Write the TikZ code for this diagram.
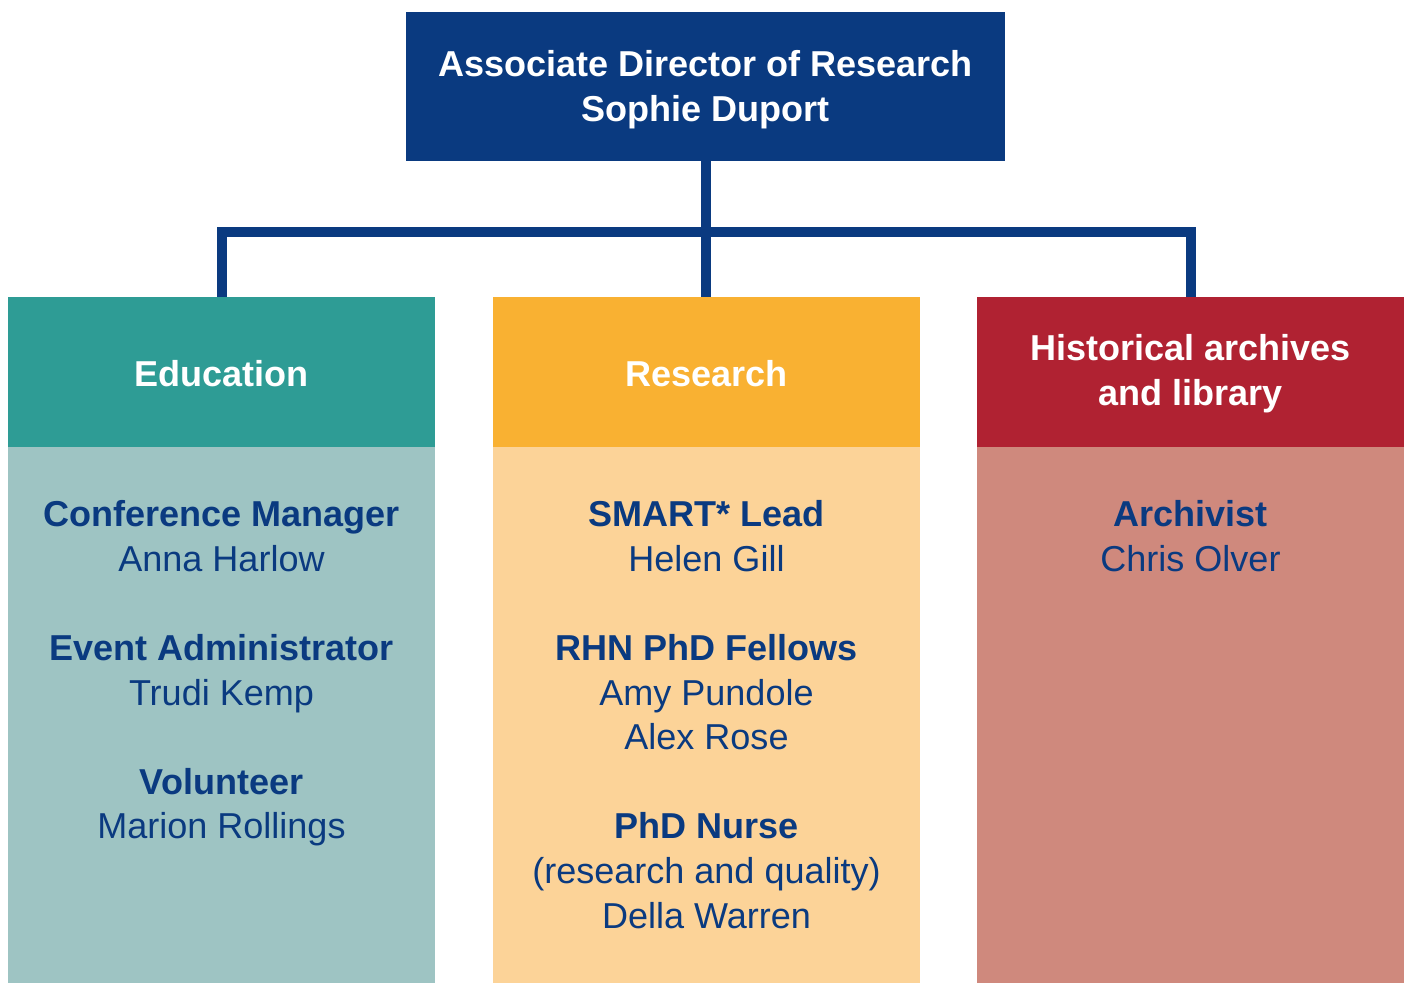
\documentclass[tikz,border=0pt]{standalone}
\usepackage{fontspec}
\setmainfont{Liberation Sans}
\definecolor{navy}{HTML}{0A3A80}
\definecolor{teal1}{HTML}{2E9C95}
\definecolor{teal2}{HTML}{9EC4C3}
\definecolor{orange1}{HTML}{F9B132}
\definecolor{orange2}{HTML}{FCD398}
\definecolor{red1}{HTML}{B02232}
\definecolor{red2}{HTML}{CF897D}
\tikzset{
  topbox/.style={fill=navy, minimum width=11.98cm, minimum height=2.98cm, inner sep=0pt},
  headbox/.style={minimum width=8.54cm, minimum height=3cm, inner sep=0pt},
  headtext/.style={inner sep=0pt, text=white, align=center, font=\fontsize{20.5}{25.4}\selectfont\bfseries},
  bodybox/.style={minimum width=8.54cm, minimum height=10.72cm, inner sep=0pt},
  bodytext/.style={anchor=north, inner sep=0pt, align=center, text=navy, font=\fontsize{20.5}{25.4}\selectfont},
  conn/.style={draw=navy, line width=0.2cm}
}
\newcommand{\role}[1]{\textbf{#1}}
\begin{document}
\begin{tikzpicture}
\useasboundingbox (0,0) rectangle (28.16,-19.66);
\node[topbox] (top) at (14.11,-1.73) {};
\node[headbox, fill=teal1] (edu) at (4.43,-7.44) {};
\node[headbox, fill=orange1] (res) at (14.13,-7.44) {};
\node[headbox, fill=red1] (hist) at (23.81,-7.44) {};
\node[bodybox, fill=teal2] (edub) at (4.43,-14.30) {};
\node[bodybox, fill=orange2] (resb) at (14.13,-14.30) {};
\node[bodybox, fill=red2] (histb) at (23.81,-14.30) {};
\node[headtext] (topt) at ([yshift=-0.07cm]top.center) {Associate Director of Research\\Sophie Duport};
\node[headtext] (edut0) at ([yshift=-0.04cm]edu.center) {Education};
\node[headtext] (rest0) at ([yshift=-0.04cm]res.center) {Research};
\node[headtext] (histt0) at ([yshift=-0.03cm]hist.center) {Historical archives\\and library};
\draw[conn] (top.south) -- (top.south |- res.north);
\draw[conn, line join=miter] (edu.north) -- ++(0,1.3) -| (hist.north);
\node[bodytext] (edut) at (4.43,-10.0) {\role{Conference Manager}\\Anna Harlow\\[25.4pt]\role{Event Administrator}\\Trudi Kemp\\[25.4pt]\role{Volunteer}\\Marion Rollings};
\node[bodytext] (rest) at (14.13,-10.0) {\role{SMART* Lead}\\Helen Gill\\[25.4pt]\role{RHN PhD Fellows}\\Amy Pundole\\Alex Rose\\[25.4pt]\role{PhD Nurse}\\(research and quality)\\Della Warren};
\node[bodytext] (histt) at (23.81,-10.0) {\role{Archivist}\\Chris Olver};
\end{tikzpicture}
\end{document}
